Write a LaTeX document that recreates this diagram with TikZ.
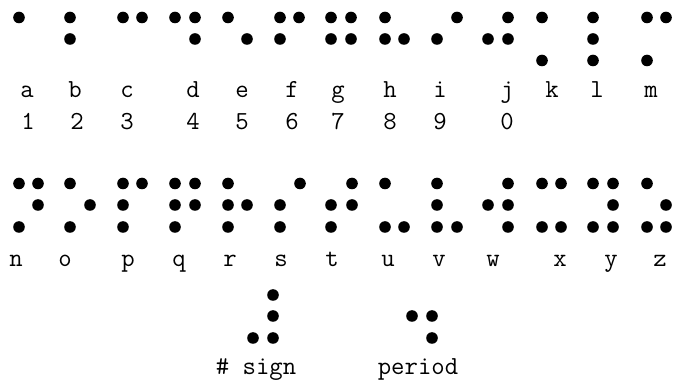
\documentclass[tikz,border=0pt]{standalone}
\usepackage{fontspec}
\begin{document}
\begin{tikzpicture}[x=1pt,y=-1pt,
  lbl/.style={anchor=base,inner sep=0pt,font=\fontsize{26}{26}\selectfont\ttfamily\addfontfeatures{FakeBold=1.2}}]
\useasboundingbox (0,0) rectangle (673,387);
\def\ra{17.5}\def\rb{39}\def\rc{60.5}
\def\sa{183.5}\def\sb{205}\def\sc{227}
\def\ta{295}\def\tb{316}\def\tc{338}
% row 1: a-m
\foreach \x/\y in {19/\ra, 70/\ra, 70/\rb, 123/\ra, 142/\ra, 175/\ra, 195/\ra, 195/\rb,
  228/\ra, 247/\rb, 280/\ra, 299/\ra, 280/\rb, 331/\ra, 351/\ra, 331/\rb, 351/\rb,
  385/\ra, 385/\rb, 404/\rb, 437/\rb, 457/\ra, 488/\rb, 508/\ra, 508/\rb,
  542/\ra, 542/\rc, 593/\ra, 593/\rb, 593/\rc, 647/\ra, 666/\ra, 647/\rc}
  \fill (\x,\y) circle[radius=5.8pt];
% row 2: n-z
\foreach \x/\y in {19/\sa, 38/\sa, 38/\sb, 19/\sc, 70/\sa, 90/\sb, 70/\sc,
  123/\sa, 142/\sa, 123/\sb, 123/\sc, 175/\sa, 195/\sa, 175/\sb, 195/\sb, 175/\sc,
  228/\sa, 228/\sb, 247/\sb, 228/\sc, 300/\sa, 280/\sb, 280/\sc,
  352/\sa, 331/\sb, 352/\sb, 331/\sc, 385/\sa, 385/\sc, 404/\sc,
  437/\sa, 437/\sb, 437/\sc, 457/\sc, 508/\sa, 488/\sb, 508/\sb, 508/\sc,
  542/\sa, 561/\sa, 542/\sc, 561/\sc, 593/\sa, 613/\sa, 613/\sb, 593/\sc, 613/\sc,
  647/\sa, 666/\sb, 647/\sc, 666/\sc}
  \fill (\x,\y) circle[radius=5.8pt];
% number sign and period
\foreach \x/\y in {273/\ta, 273/\tb, 253/\tc, 273/\tc, 412/\tb, 432/\tb, 432/\tc}
  \fill (\x,\y) circle[radius=5.8pt];
% letter labels row 1
\foreach \l/\x in {a/27, b/75, c/127, d/193, e/242, f/292, g/338, h/390, i/440, j/507, k/552, l/597, m/651}
  \node[lbl] (L\l) at (\x,98) {\l};
% digits
\foreach \d/\x in {1/28, 2/77, 3/127, 4/193, 5/242, 6/292, 7/338, 8/390, 9/440, 0/507}
  \node[lbl] (D\d) at (\x,130) {\d};
% letter labels row 2
\foreach \l/\x in {n/16, o/65, p/128, q/179, r/230, s/281, t/332, u/388, v/439, w/493, x/560, y/611, z/660}
  \node[lbl] (L\l) at (\x,267) {\l};
\node[lbl] (numsign) at (256,375) {\# sign};
\node[lbl] (period) at (418,375) {period};
\end{tikzpicture}
\end{document}
